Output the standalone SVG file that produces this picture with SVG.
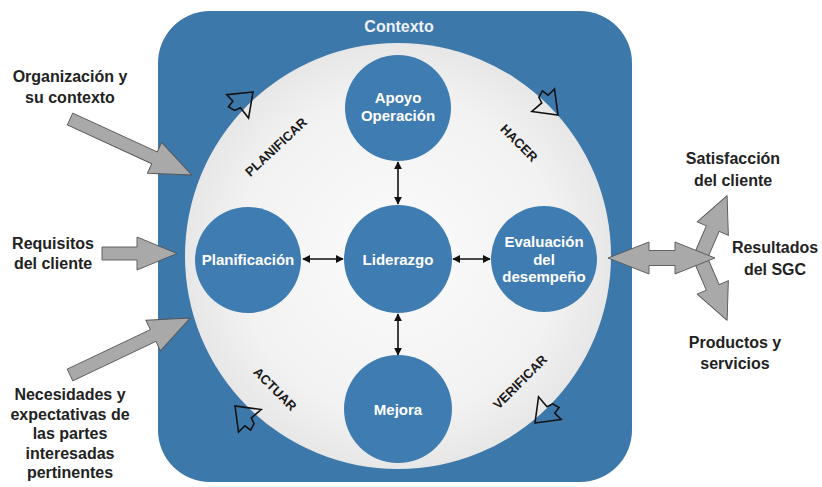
<svg xmlns="http://www.w3.org/2000/svg" width="822" height="487" viewBox="0 0 822 487">
<style>
.lbl{font-family:"Liberation Sans",Arial,sans-serif;font-weight:bold;font-size:16px;fill:#222;text-anchor:middle}
.in{font-family:"Liberation Sans",Arial,sans-serif;font-weight:bold;font-size:15px;fill:#fff;text-anchor:middle}
.pd{font-family:"Liberation Sans",Arial,sans-serif;font-weight:bold;font-size:13px;fill:#1a1a1a;text-anchor:middle}
.node{fill:#3f7cb1}
.blk{fill:#a9a9a9;stroke:#555;stroke-width:0.9;stroke-linejoin:round}
.cur{fill:none;stroke:#111;stroke-width:1.6;stroke-linejoin:miter}
.con{stroke:#111;stroke-width:1.6;fill:none;marker-start:url(#ah);marker-end:url(#ah)}
</style>
<defs>
<radialGradient id="g" cx="0.5" cy="0.5" r="0.5">
<stop offset="0" stop-color="#fbfbfb"/>
<stop offset="0.75" stop-color="#f2f2f2"/>
<stop offset="1" stop-color="#e7e7e7"/>
</radialGradient>
<marker id="ah" viewBox="0 0 10 10" refX="9" refY="5" markerWidth="5" markerHeight="5" orient="auto-start-reverse" markerUnits="strokeWidth">
<path d="M0,0 L10,5 L0,10 Z" fill="#111"/>
</marker>
<polygon id="cursor" points="0,0 -21,-16 -21,-7 -28,-6 -26,1 -20,3 -21,16"/>
</defs>
<rect width="822" height="487" fill="#fff"/>
<g id="contexto">
<rect x="158" y="11" width="474" height="471" rx="52" fill="#3d78ab"/>
<text class="in" x="399" y="32" style="font-size:16px;fill:#eef2f7">Contexto</text>
</g>
<g id="ciclo">
<circle cx="398" cy="256" r="213" fill="url(#g)"/>
</g>
<g id="pdca">
<use href="#cursor" class="cur" transform="translate(253,92) rotate(-43)"/>
<use href="#cursor" class="cur" transform="translate(558,115) rotate(45)"/>
<use href="#cursor" class="cur" transform="translate(535,423) rotate(135)"/>
<use href="#cursor" class="cur" transform="translate(235,406) rotate(-135)"/>
<text class="pd" transform="translate(276,147) rotate(-43)" x="0" y="4.5">PLANIFICAR</text>
<text class="pd" transform="translate(519,143) rotate(45)" x="0" y="4.5">HACER</text>
<text class="pd" transform="translate(520,382) rotate(-45)" x="0" y="4.5">VERIFICAR</text>
<text class="pd" transform="translate(275,389) rotate(45)" x="0" y="4.5">ACTUAR</text>
</g>
<g id="connectors">
<line class="con" x1="398" y1="162" x2="398" y2="204"/>
<line class="con" x1="398" y1="314" x2="398" y2="355"/>
<line class="con" x1="303" y1="259" x2="343" y2="259"/>
<line class="con" x1="453" y1="259" x2="490" y2="259"/>
</g>
<g id="apoyo">
<circle class="node" cx="398" cy="108" r="53"/>
<text class="in" x="398" y="103">Apoyo</text>
<text class="in" x="398" y="121">Operación</text>
</g>
<g id="liderazgo">
<circle class="node" cx="398" cy="259" r="54"/>
<text class="in" x="398" y="265">Liderazgo</text>
</g>
<g id="planificacion">
<circle class="node" cx="248" cy="260" r="53"/>
<text class="in" x="248" y="265">Planificación</text>
</g>
<g id="evaluacion">
<circle class="node" cx="544" cy="259" r="53"/>
<text class="in" x="544" y="247">Evaluación</text>
<text class="in" x="544" y="265">del</text>
<text class="in" x="544" y="282">desempeño</text>
</g>
<g id="mejora">
<circle class="node" cx="398" cy="409" r="54"/>
<text class="in" x="398" y="415">Mejora</text>
</g>
<g id="entradas">
<polygon class="blk" transform="translate(70,119) rotate(24.7)" points="0,-6.5 93,-6.5 93,-17 134,0 93,17 93,6.5 0,6.5"/>
<polygon class="blk" transform="translate(102,253.5)" points="0,-6.5 35,-6.5 35,-16.5 75,0 35,16.5 35,6.5 0,6.5"/>
<polygon class="blk" transform="translate(70,375) rotate(-25.4)" points="0,-6.5 92,-6.5 92,-17 133,0 92,17 92,6.5 0,6.5"/>
<text class="lbl" x="70" y="82">Organización y</text>
<text class="lbl" x="70" y="103">su contexto</text>
<text class="lbl" x="53" y="249">Requisitos</text>
<text class="lbl" x="53" y="269">del cliente</text>
<text class="lbl" x="70" y="400">Necesidades y</text>
<text class="lbl" x="70" y="419.5">expectativas de</text>
<text class="lbl" x="70" y="439">las partes</text>
<text class="lbl" x="70" y="458.5">interesadas</text>
<text class="lbl" x="70" y="478">pertinentes</text>
</g>
<g id="salidas">
<polygon class="blk" transform="translate(700,258) rotate(-66.5)" points="0,-7 32,-7 32,-17 68,0 32,17 32,7 0,7"/>
<polygon class="blk" transform="translate(700,258) rotate(66.5)" points="0,-7 32,-7 32,-17 68,0 32,17 32,7 0,7"/>
<polygon class="blk" points="608,258 649,242 649,250.5 675,250.5 675,242 715,258 675,274 675,265.5 649,265.5 649,274"/>
<text class="lbl" x="733" y="164">Satisfacción</text>
<text class="lbl" x="733" y="186">del cliente</text>
<text class="lbl" x="775" y="253">Resultados</text>
<text class="lbl" x="775" y="275">del SGC</text>
<text class="lbl" x="735" y="348">Productos y</text>
<text class="lbl" x="735" y="369">servicios</text>
</g>
</svg>
